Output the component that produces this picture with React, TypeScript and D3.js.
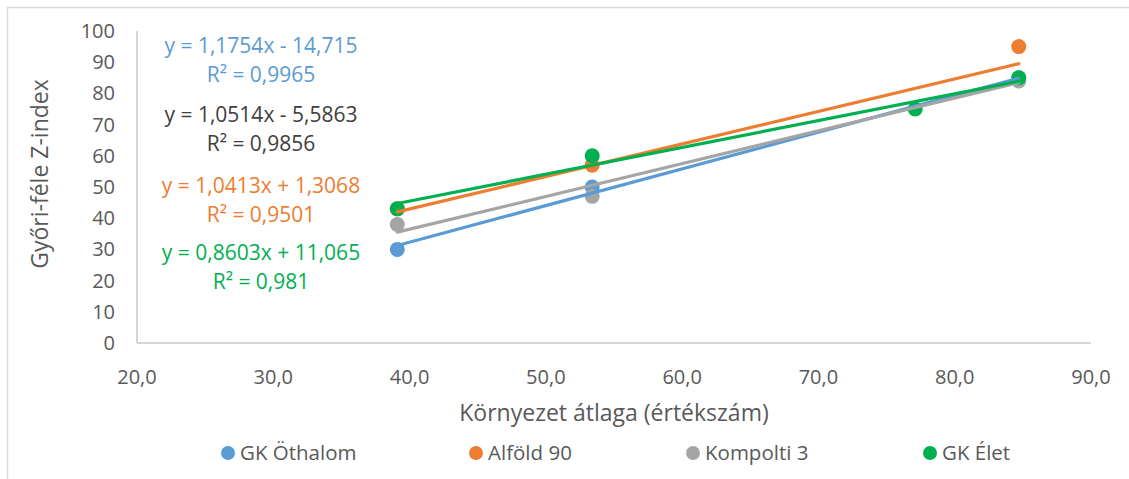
import React from "react";
import * as d3 from "d3";

const seriesNames = ["GK Öthalom", "Alföld 90", "Kompolti 3", "GK Élet"];
const seriesColors = ["#5b9bd5", "#ed7d31", "#a5a5a5", "#00b050"];
const eqColors = ["#5b9bd5", "#ed7d31", "#404040", "#00b050"];

const othalomX = [39.1, 53.4, 84.7];
const othalomY = [30, 50, 85];
const alfoldX = [39.1, 53.4, 84.7];
const alfoldY = [43, 57, 95];
const kompoltiX = [39.1, 53.4, 84.7];
const kompoltiY = [38, 47, 84];
const eletX = [39.1, 53.4, 77.1, 84.7];
const eletY = [43, 60, 75, 85];

const slopes = [1.1754, 1.0413, 1.0514, 0.8603];
const intercepts = [-14.715, 1.3068, -5.5863, 11.065];
const eqTexts = [
  "y = 1,1754x - 14,715",
  "y = 1,0413x + 1,3068",
  "y = 1,0514x - 5,5863",
  "y = 0,8603x + 11,065",
];
const r2Texts = ["R² = 0,9965", "R² = 0,9501", "R² = 0,9856", "R² = 0,981"];
// order of equation labels from top to bottom (series index)
const eqOrder = [0, 2, 1, 3];

const xTicks = [20, 30, 40, 50, 60, 70, 80, 90];
const yTicks = [0, 10, 20, 30, 40, 50, 60, 70, 80, 90, 100];

const xTitle = "Környezet átlaga (értékszám)";
const yTitle = "Győri-féle Z-index";

const FONT = "'Open Sans', sans-serif";

export default function App() {
  const W = 1129;
  const H = 479;
  const x = d3.scaleLinear().domain([20, 90]).range([137, 1091]);
  const y = d3.scaleLinear().domain([0, 100]).range([343, 31]);
  const fmtX = (v: number) => d3.format(".1f")(v).replace(".", ",");

  const xs = [othalomX, alfoldX, kompoltiX, eletX];
  const ys = [othalomY, alfoldY, kompoltiY, eletY];

  const lineGen = d3
    .line<[number, number]>()
    .x((d) => x(d[0]))
    .y((d) => y(d[1]));

  const eqYs = [46, 115, 186, 253];
  const eqX = 261;
  const legendX = [228, 476, 693, 930];

  return (
    <svg
      width={W}
      height={H}
      style={{ position: "absolute", left: 0, top: 0, background: "#fff" }}
      fontFamily={FONT}
    >
      <rect x={7.5} y={7.5} width={1300} height={600} fill="#fff" stroke="#d9d9d9" strokeWidth={1.5} />

      {/* axes */}
      <line x1={x(20)} x2={x(20)} y1={y(100)} y2={y(0)} stroke="#c8c8c8" strokeWidth={1.5} />
      <line x1={x(20)} x2={x(90)} y1={y(0)} y2={y(0)} stroke="#c8c8c8" strokeWidth={1.5} />

      {yTicks.map((t) => (
        <text key={"y" + t} x={115} y={y(t)} dy="0.35em" textAnchor="end" fontSize={20} fill="#595959">
          {t}
        </text>
      ))}
      {xTicks.map((t) => (
        <text key={"x" + t} x={x(t)} y={377} dy="0.35em" textAnchor="middle" fontSize={20} fill="#595959">
          {fmtX(t)}
        </text>
      ))}

      <text x={614} y={413} dy="0.35em" textAnchor="middle" fontSize={23} fill="#595959">
        {xTitle}
      </text>
      <text
        transform={`translate(40,174) rotate(-90)`}
        dy="0.35em"
        textAnchor="middle"
        fontSize={23}
        fill="#595959"
      >
        {yTitle}
      </text>

      {/* markers */}
      {xs.map((sx, i) => (
        <g key={"m" + i}>
          {sx.map((xv, j) => (
            <circle key={j} cx={x(xv)} cy={y(ys[i][j])} r={7.5} fill={seriesColors[i]} />
          ))}
        </g>
      ))}

      {/* trend lines */}
      {xs.map((sx, i) => {
        const x0 = d3.min(sx) as number;
        const x1 = d3.max(sx) as number;
        const pts: [number, number][] = [
          [x0, slopes[i] * x0 + intercepts[i]],
          [x1, slopes[i] * x1 + intercepts[i]],
        ];
        return (
          <path key={"t" + i} d={lineGen(pts) || ""} stroke={seriesColors[i]} strokeWidth={3.2} fill="none" strokeLinecap="round" />
        );
      })}

      {/* equation labels */}
      {eqOrder.map((si, k) => (
        <g key={"e" + si}>
          <text x={eqX} y={eqYs[k]} dy="0.35em" textAnchor="middle" fontSize={21} fill={eqColors[si]}>
            {eqTexts[si]}
          </text>
          <text x={eqX} y={eqYs[k] + 28.5} dy="0.35em" textAnchor="middle" fontSize={21} fill={eqColors[si]}>
            {r2Texts[si]}
          </text>
        </g>
      ))}

      {/* legend */}
      {seriesNames.map((n, i) => (
        <g key={"l" + i}>
          <circle cx={legendX[i]} cy={453} r={7} fill={seriesColors[i]} />
          <text x={legendX[i] + 12} y={453} dy="0.35em" fontSize={20.5} fill="#595959">
            {n}
          </text>
        </g>
      ))}
    </svg>
  );
}
